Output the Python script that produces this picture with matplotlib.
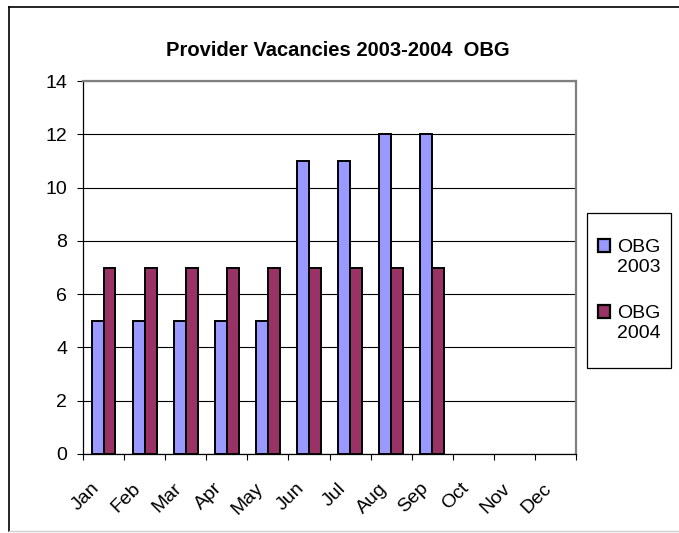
import numpy as np
import matplotlib.pyplot as plt
from matplotlib.patches import Patch, Rectangle
from matplotlib.legend_handler import HandlerPatch
from matplotlib.lines import Line2D
from matplotlib.transforms import ScaledTranslation

##### Data #####
months = ['Jan', 'Feb', 'Mar', 'Apr', 'May', 'Jun',
          'Jul', 'Aug', 'Sep', 'Oct', 'Nov', 'Dec']
obg_2003 = [5, 5, 5, 5, 5, 11, 11, 12, 12, 0, 0, 0]
obg_2004 = [7, 7, 7, 7, 7, 7, 7, 7, 7, 0, 0, 0]
series_names = ['OBG\n2003', 'OBG\n2004']
colors = ['#9999FF', '#993366']

plt.rcParams['font.family'] = ['Liberation Sans', 'DejaVu Sans']
fs = 14

fig = plt.figure(figsize=(6.79, 5.33), dpi=100)
ax = fig.add_axes([83 / 679, 1 - 454 / 533, 493 / 679, 373 / 533])

x = np.arange(len(months))
w = 0.29
# only months with data get bars (Oct-Dec are blank)
n = 9
ax.bar(x[:n] - w / 2, obg_2003[:n], w, color=colors[0], edgecolor='black',
       linewidth=1.4, zorder=3)
ax.bar(x[:n] + w / 2, obg_2004[:n], w, color=colors[1], edgecolor='black',
       linewidth=1.4, zorder=3)

ax.set_xlim(-0.5, 11.5)
ax.set_ylim(0, 14)
ax.set_yticks(np.arange(0, 15, 2))
ax.yaxis.grid(True, color='black', linewidth=0.8, zorder=0)

# category boundaries as major ticks, month names centred as minor ticks
ax.set_xticks(np.arange(-0.5, 12, 1))
ax.set_xticklabels([])
ax.set_xticks(x, minor=True)
ax.set_xticklabels(months, minor=True, rotation=45, ha='right',
                   rotation_mode='anchor', fontsize=fs)
ax.tick_params(axis='x', which='minor', length=0, pad=10)
ax.tick_params(axis='x', which='major', length=4.5, width=0.8)
ax.tick_params(axis='y', length=4.3, width=0.8, labelsize=fs, pad=7)
shift = ScaledTranslation(-13 / 100, -12 / 100, fig.dpi_scale_trans)
for lab in ax.get_xticklabels(minor=True):
    lab.set_transform(lab.get_transform() + shift)

for s in ['top', 'right']:
    ax.spines[s].set_color('#808080')
    ax.spines[s].set_linewidth(1.6)
for s in ['left', 'bottom']:
    ax.spines[s].set_color('black')
    ax.spines[s].set_linewidth(0.9)

fig.text(338 / 679, 1 - 51 / 533, 'Provider Vacancies 2003-2004  OBG',
         ha='center', va='center', fontsize=14.5, fontweight='bold')


# legend square sits beside the first text line
def top_square(legend, orig_handle, xdescent, ydescent, width, height, fontsize):
    return Rectangle((-xdescent, -ydescent + 0.6 * fontsize), width, height)


handles = [Patch(facecolor=c, edgecolor='black', linewidth=1.6) for c in colors]
leg = fig.legend(handles, series_names, loc='center left',
                 bbox_to_anchor=(598 / 679, 1 - 290.5 / 533),
                 fontsize=fs, frameon=False,
                 handlelength=0.62, handleheight=0.62, handletextpad=0.35,
                 labelspacing=1.5, borderpad=0, borderaxespad=0,
                 handler_map={Patch: HandlerPatch(patch_func=top_square)})
# legend box
fig.add_artist(Rectangle((587 / 679, 1 - 368 / 533), 84 / 679, 155 / 533,
                         transform=fig.transFigure, fill=False,
                         edgecolor='black', linewidth=0.9))

# chart area border
fig.add_artist(Line2D([9 / 679, 9 / 679], [0.004, 1 - 7 / 533],
                      color='black', linewidth=1.2))
fig.add_artist(Line2D([9 / 679, 1.0], [1 - 7 / 533, 1 - 7 / 533],
                      color='black', linewidth=1.2))
fig.add_artist(Line2D([9 / 679, 1.0], [0.004, 0.004],
                      color='#d0d0d0', linewidth=1.0))

fig.savefig('out.png', dpi=100)
